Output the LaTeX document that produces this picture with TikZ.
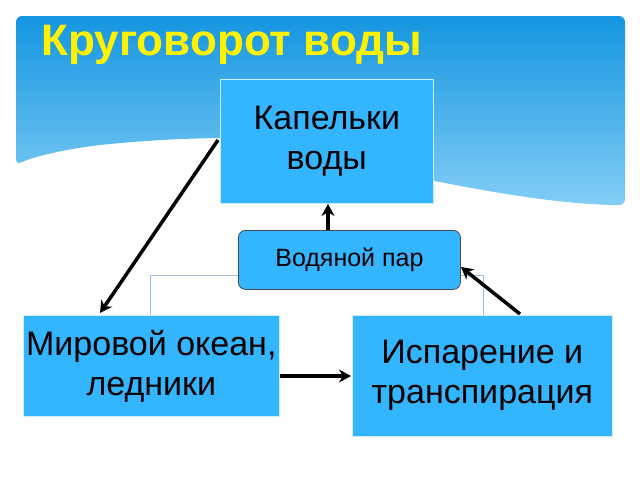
\documentclass[tikz,border=0pt]{standalone}
\usepackage{fontspec}
\setmainfont{Liberation Sans}
\usetikzlibrary{arrows.meta}
\definecolor{boxc}{RGB}{51,181,255}
\definecolor{topc}{RGB}{20,150,225}
\definecolor{botc}{RGB}{130,205,245}
\begin{document}
\begin{tikzpicture}[x=1pt,y=-1pt,
  box/.style={draw=white!80!cyan,line width=0.6pt,fill=boxc,inner sep=0pt,anchor=north west,align=center,font=\fontsize{34}{40}\selectfont},
  arr/.style={line width=3.5pt,-{Stealth[length=12pt,width=13pt]}},
  thin/.style={draw=cyan!60!blue!40!white,line width=0.8pt}]
\useasboundingbox (0,0) rectangle (640,480);
\fill[white] (0,0) rectangle (640,480);
\shade[top color=topc, bottom color=botc, rounded corners=6pt]
  (16,16) -- (625,16) -- (625,205) .. controls (560,205) and (480,190) .. (430,180) -- (430,150) .. controls (300,135) and (200,135) .. (100,145) .. controls (60,150) and (30,158) .. (16,165) -- cycle;
\node[anchor=west,text=yellow,font=\bfseries\fontsize{44}{46}\selectfont] (title) at (38,45) {Круговорот воды};
\draw[thin] (238,275) -- (150,275) -- (150,315);
\draw[thin] (460,275) -- (483,275) -- (483,315);
\node[box,minimum width=213pt,minimum height=124pt] (kap) at (220,79) {Капельки\\воды};
\node[draw=black!70,fill=boxc,rounded corners=7pt,line width=0.8pt,minimum width=222pt,minimum height=59pt,anchor=north west,font=\fontsize{25}{28}\selectfont,inner sep=0pt] (par) at (238,230) {Водяной пар};
\node[box,minimum width=256pt,minimum height=101pt] (ocean) at (23,315) {Мировой океан,\\ледники};
\node[box,minimum width=260pt,minimum height=121pt] (isp) at (352,315) {Испарение и\\транспирация};
\coordinate (a1) at (218,140);
\coordinate (a2) at (100,313);
\draw[arr] (a1) -- (a2);
\draw[arr] (par.north -| 328,0) -- (328,204);
\coordinate (b1) at (520,314);
\draw[arr] (b1) -- (461,267);
\coordinate (c1) at (280,376);
\coordinate (c2) at (351,376);
\draw[arr] (c1) -- (c2);
\end{tikzpicture}
\end{document}
